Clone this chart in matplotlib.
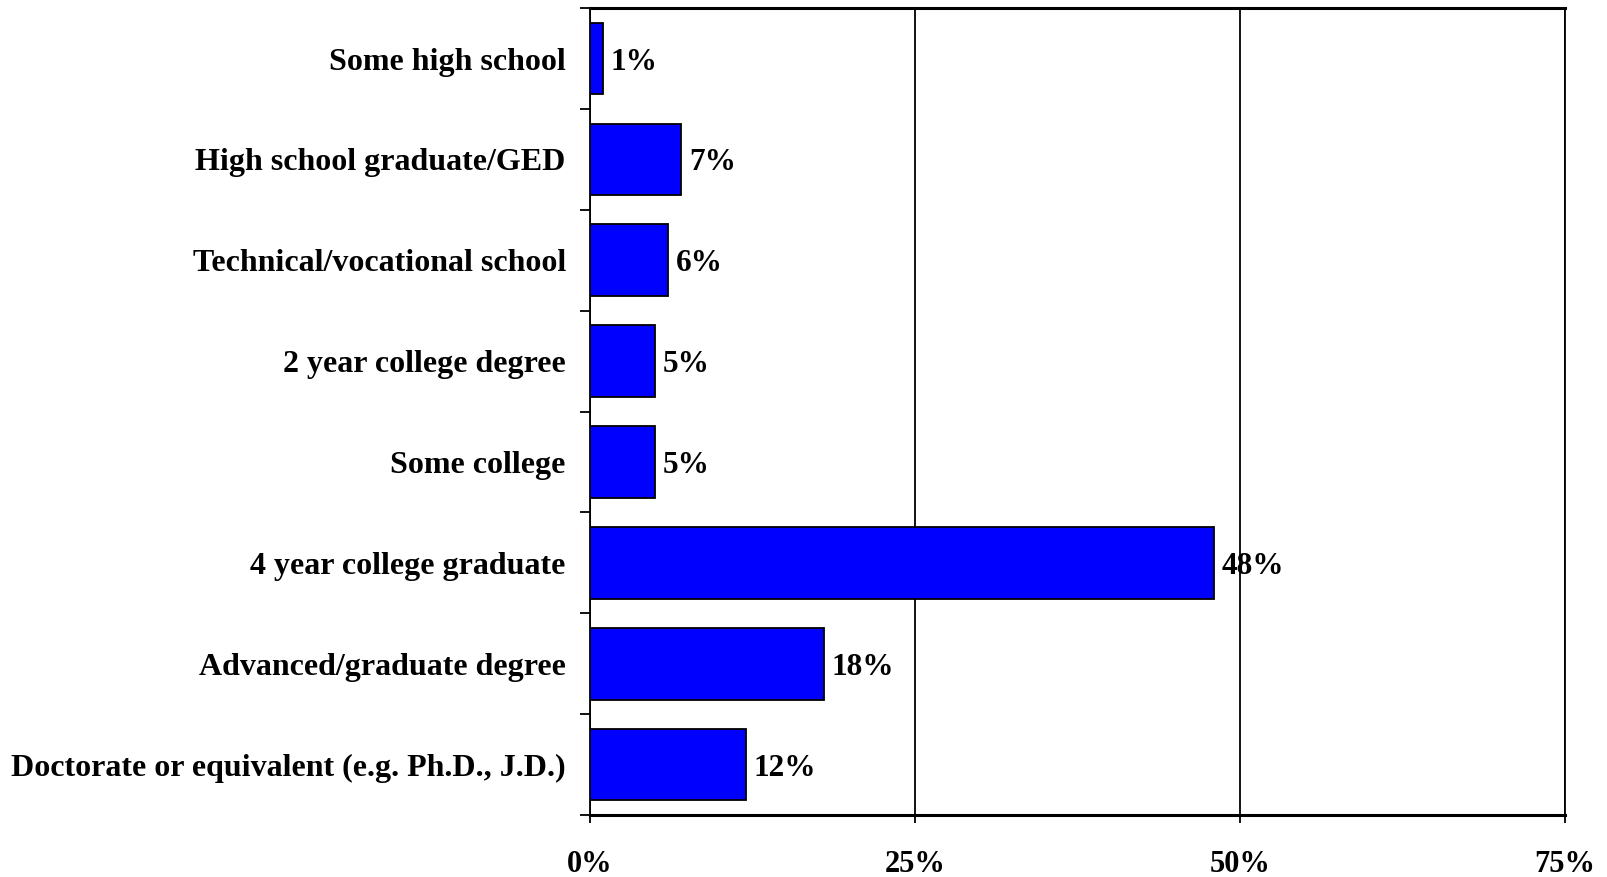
import numpy as np
import matplotlib
matplotlib.use("Agg")
import matplotlib.pyplot as plt

# education levels, top to bottom
categories = ["Some high school", "High school graduate/GED",
              "Technical/vocational school", "2 year college degree",
              "Some college", "4 year college graduate",
              "Advanced/graduate degree",
              "Doctorate or equivalent (e.g. Ph.D., J.D.)"]
values = [1, 7, 6, 5, 5, 48, 18, 12]
xticks = [0, 25, 50, 75]
xtick_labels = ["0%", "25%", "50%", "75%"]

plt.rcParams['font.family'] = ['Liberation Serif', 'DejaVu Serif']
plt.rcParams['font.weight'] = 'bold'

fig = plt.figure(figsize=(16.08, 8.77), dpi=100)
ax = fig.add_axes([0.367, 0.0707, 0.606, 0.92])

y = np.arange(len(categories))
ax.barh(y, values, height=0.71, color='#0000FF', edgecolor='black', linewidth=1.3, zorder=3)
for yi, v in zip(y, values):
    ax.text(v + 0.6, yi, f"{v}%", va='center_baseline', ha='left', fontsize=22.5, fontweight='bold', zorder=4)

ax.set_xlim(0, 75)
ax.set_ylim(len(categories) - 0.5, -0.5)

ax.set_xticks(xticks)
ax.set_xticklabels(xtick_labels, fontsize=22, fontweight='bold')
ax.tick_params(axis='x', direction='out', length=6, width=1.3, pad=19)

ax.set_yticks(y)
ax.set_yticklabels(categories, fontsize=23, fontweight='bold', va='center_baseline')
ax.tick_params(axis='y', length=0, pad=17.5)
ax.set_yticks(np.arange(len(categories) + 1) - 0.5, minor=True)
ax.tick_params(axis='y', which='minor', direction='out', length=7, width=1.3)

ax.grid(axis='x', color='black', linewidth=1.3, zorder=1)
for s in ax.spines.values():
    s.set_linewidth(1.3)
ax.spines['bottom'].set_linewidth(2.2)
ax.spines['top'].set_linewidth(2.2)

plt.savefig('out.png', dpi=100)
